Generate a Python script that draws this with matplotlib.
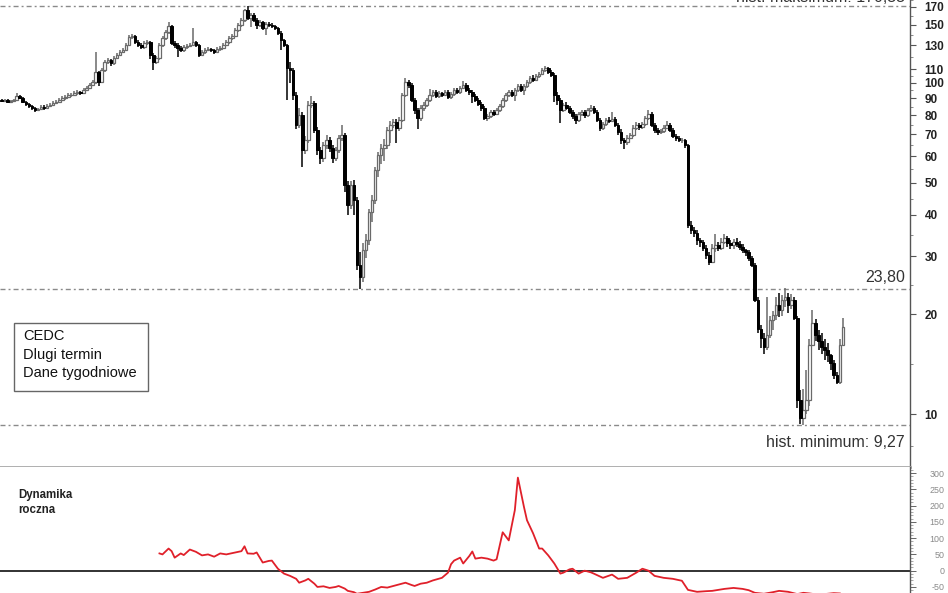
import matplotlib
matplotlib.use("Agg")
import matplotlib.pyplot as plt
import matplotlib.patches as mpatches
import matplotlib.transforms as mtransforms
import numpy as np

# ---------------- data (weekly candles) ----------------
opens = [
88.5, 88.2, 88.8, 87.6, 88.2, 88.8, 91.4, 90.1, 87.6, 86.4,
85.2, 84.0, 82.8, 83.4, 84.6, 84.0, 85.2, 85.8, 87.0, 87.6,
88.8, 90.1, 90.7, 92.0, 92.0, 93.3, 93.9, 93.3, 95.2, 96.6,
98.6, 100.7, 107.9, 100.7, 109.4, 115.7, 117.3, 114.9, 119.0, 121.5,
124.1, 125.8, 130.2, 137.6, 138.6, 132.9, 130.2, 128.4, 132.0, 132.9,
121.5, 115.7, 119.0, 130.2, 136.7, 142.5, 148.6, 132.0, 130.2, 127.5,
125.8, 128.4, 129.3, 130.2, 132.9, 130.2, 121.5, 124.1, 125.8, 126.7,
125.8, 124.1, 126.7, 127.5, 130.2, 132.9, 136.7, 138.6, 144.5, 149.6,
154.9, 166.1, 157.1, 160.4, 154.9, 149.6, 152.8, 146.6, 150.7, 149.6,
148.6, 146.6, 141.5, 134.8, 130.2, 111.0, 109.4, 92.0, 74.6, 80.0,
62.7, 67.2, 85.8, 87.0, 72.1, 62.7, 59.3, 64.9, 67.2, 63.6,
59.3, 62.7, 68.2, 69.6, 49.2, 42.8, 49.2, 44.3, 28.2, 25.9,
31.3, 33.5, 40.7, 44.3, 54.6, 60.6, 63.6, 64.9, 72.1, 74.6,
76.2, 73.1, 77.3, 92.0, 100.7, 98.6, 88.8, 82.8, 78.3, 84.0,
85.8, 88.8, 92.0, 93.9, 91.4, 93.3, 92.0, 93.9, 90.7, 92.6,
95.2, 93.9, 96.6, 98.6, 95.2, 93.9, 91.4, 88.8, 86.4, 84.0,
78.3, 79.4, 81.7, 80.5, 82.8, 85.2, 88.8, 92.0, 93.9, 92.0,
95.2, 97.9, 95.2, 97.9, 100.7, 103.5, 102.1, 104.9, 106.4, 109.4,
111.0, 107.9, 105.7, 92.0, 88.8, 82.8, 85.8, 84.0, 81.7, 79.4,
77.3, 80.5, 81.7, 80.0, 82.8, 84.0, 81.7, 77.3, 73.1, 75.1,
77.3, 76.7, 77.8, 74.6, 71.1, 67.2, 66.3, 68.2, 69.6, 73.1,
74.6, 73.6, 75.1, 78.3, 80.5, 74.6, 72.1, 71.1, 71.6, 73.1,
74.6, 72.1, 69.1, 68.2, 67.2, 67.2, 64.9, 37.2, 35.9, 35.2,
33.5, 33.0, 31.7, 30.2, 28.8, 31.7, 32.4, 31.7, 33.0, 34.0,
32.8, 32.4, 33.0, 32.6, 31.9, 31.3, 30.8, 29.6, 28.2, 22.1,
18.1, 17.0, 15.9, 17.3, 19.2, 19.9, 21.3, 20.6, 22.1, 22.6,
21.3, 22.1, 19.5, 11.0, 9.7, 10.3, 11.0, 16.2, 18.9, 17.3,
16.6, 15.9, 15.6, 15.1, 14.3, 13.1, 12.5, 16.2,
]
highs = [
89.4, 89.6, 89.5, 88.9, 89.7, 93.5, 92.0, 90.6, 88.3, 87.0,
86.0, 84.6, 84.2, 85.9, 85.5, 86.1, 87.0, 88.2, 88.9, 89.9,
91.0, 91.8, 93.4, 93.2, 94.6, 95.1, 94.8, 96.3, 97.8, 100.1,
102.2, 124.1, 109.0, 110.8, 117.2, 119.2, 118.5, 120.4, 123.0, 125.6,
127.7, 132.0, 139.6, 140.5, 139.8, 134.4, 131.6, 133.8, 134.6, 133.6,
123.0, 120.4, 131.8, 138.5, 144.5, 152.8, 149.9, 133.5, 131.7, 128.9,
129.8, 130.9, 131.6, 146.6, 134.2, 131.4, 125.6, 127.2, 128.5, 127.9,
126.8, 128.0, 129.1, 131.9, 134.6, 138.4, 140.7, 146.5, 151.8, 157.2,
167.6, 170.55, 163.0, 162.3, 156.8, 154.9, 154.2, 152.6, 153.0, 151.6,
150.0, 148.0, 143.0, 136.0, 131.5, 116.0, 111.2, 93.6, 84.0, 81.8,
69.0, 88.0, 91.0, 88.4, 73.6, 64.0, 66.3, 69.8, 68.5, 64.9,
64.0, 69.6, 74.6, 70.5, 50.5, 50.6, 51.0, 45.2, 30.8, 32.8,
35.0, 41.5, 46.0, 55.8, 62.0, 65.3, 67.5, 73.8, 76.5, 78.0,
77.8, 79.0, 93.5, 103.5, 102.0, 99.6, 90.0, 84.0, 85.8, 87.5,
90.0, 95.8, 95.0, 95.0, 94.6, 94.0, 95.2, 95.0, 93.8, 96.4,
96.5, 98.0, 101.4, 99.7, 96.4, 95.0, 92.6, 90.0, 87.6, 85.0,
80.8, 83.0, 82.6, 84.0, 86.5, 90.2, 93.5, 95.2, 95.3, 96.8,
99.5, 99.0, 99.2, 102.0, 105.0, 105.8, 106.2, 108.0, 111.0, 112.5,
112.0, 109.2, 106.8, 94.0, 90.0, 87.0, 87.5, 85.2, 83.0, 80.6,
81.8, 83.0, 82.8, 84.0, 85.5, 85.2, 82.8, 78.5, 76.2, 78.4,
78.8, 81.5, 79.0, 75.8, 72.4, 68.4, 69.4, 70.8, 74.4, 76.0,
75.5, 76.4, 79.6, 82.8, 81.5, 75.5, 73.2, 72.8, 74.6, 76.8,
75.6, 73.0, 70.2, 69.0, 68.4, 67.8, 65.5, 38.2, 36.6, 36.0,
34.0, 33.5, 32.4, 30.8, 32.6, 35.0, 33.0, 34.0, 35.0, 34.6,
33.5, 33.8, 34.0, 33.2, 32.6, 31.6, 31.2, 30.0, 28.6, 22.5,
18.6, 17.6, 22.6, 19.8, 20.5, 22.5, 23.2, 22.9, 24.0, 23.2,
23.0, 22.6, 19.8, 11.8, 11.9, 13.6, 16.8, 20.6, 19.4, 18.0,
17.6, 16.8, 16.4, 15.2, 14.6, 13.4, 16.8, 19.5,
]
lows = [
87.4, 87.6, 86.8, 87.0, 87.8, 88.3, 89.2, 86.9, 85.4, 84.0,
83.1, 81.6, 82.0, 82.7, 83.0, 83.2, 84.6, 84.9, 86.2, 86.9,
87.9, 89.0, 89.9, 90.8, 91.0, 92.2, 92.1, 92.4, 94.3, 95.6,
97.6, 99.2, 98.0, 99.6, 108.2, 113.9, 112.8, 113.5, 117.8, 120.2,
122.8, 124.5, 128.9, 135.4, 131.0, 128.6, 126.4, 127.0, 130.3, 118.0,
109.6, 113.9, 117.6, 128.7, 135.0, 141.0, 130.5, 127.3, 120.0, 124.0,
124.3, 126.9, 128.0, 128.9, 128.4, 119.8, 120.4, 122.6, 124.7, 124.0,
122.6, 123.0, 125.2, 126.4, 129.0, 131.4, 135.0, 137.2, 142.8, 147.8,
153.2, 155.0, 148.0, 152.8, 145.0, 147.4, 144.8, 139.6, 147.2, 146.0,
144.0, 139.2, 126.0, 128.0, 88.8, 100.0, 89.0, 72.8, 73.0, 55.6,
60.8, 66.0, 84.0, 70.5, 60.4, 57.0, 57.6, 63.0, 61.8, 57.2,
58.0, 61.6, 67.0, 47.0, 40.0, 41.5, 40.0, 27.3, 23.8, 25.0,
29.5, 32.4, 38.0, 43.0, 52.0, 57.0, 58.0, 63.2, 66.0, 73.0,
66.0, 71.8, 76.0, 90.5, 96.5, 87.5, 80.5, 72.5, 77.0, 82.5,
84.6, 87.5, 90.8, 90.2, 90.0, 90.6, 91.0, 89.2, 89.6, 91.5,
92.5, 92.8, 95.8, 94.0, 92.0, 87.0, 87.5, 85.2, 82.0, 77.2,
77.0, 78.5, 79.6, 79.8, 81.6, 84.0, 87.6, 90.5, 90.8, 88.0,
94.0, 94.0, 92.0, 96.8, 99.5, 100.6, 101.0, 103.5, 105.6, 108.0,
106.4, 104.2, 87.5, 86.0, 75.6, 81.5, 82.6, 80.3, 77.8, 75.0,
76.2, 79.3, 78.6, 79.0, 81.6, 80.4, 76.0, 71.8, 72.0, 74.0,
75.6, 76.0, 73.5, 69.8, 65.4, 63.0, 64.8, 67.5, 68.8, 72.0,
72.2, 72.5, 74.2, 77.5, 73.4, 70.8, 69.8, 70.2, 70.6, 72.4,
71.0, 68.2, 67.0, 66.2, 66.0, 63.8, 36.5, 35.0, 34.2, 32.3,
32.0, 31.0, 29.4, 28.2, 28.5, 30.8, 31.0, 31.2, 32.6, 32.0,
31.6, 31.6, 32.0, 31.2, 30.6, 30.0, 29.0, 27.8, 21.8, 17.6,
15.8, 15.2, 15.6, 17.0, 18.0, 19.2, 19.6, 19.8, 21.0, 20.2,
20.8, 19.2, 10.4, 9.3, 9.27, 10.0, 10.6, 16.0, 16.6, 15.6,
15.2, 14.6, 14.4, 13.6, 12.8, 12.3, 12.3, 16.0,
]
closes = [
88.2, 88.8, 87.6, 88.2, 88.8, 91.4, 90.1, 87.6, 86.4, 85.2,
84.0, 82.8, 83.4, 84.6, 84.0, 85.2, 85.8, 87.0, 87.6, 88.8,
90.1, 90.7, 92.0, 92.0, 93.3, 93.9, 93.3, 95.2, 96.6, 98.6,
100.7, 107.9, 100.7, 109.4, 115.7, 117.3, 114.9, 119.0, 121.5, 124.1,
125.8, 130.2, 137.6, 138.6, 132.9, 130.2, 128.4, 132.0, 132.9, 121.5,
115.7, 119.0, 130.2, 136.7, 142.5, 148.6, 132.0, 130.2, 127.5, 125.8,
128.4, 129.3, 130.2, 132.9, 130.2, 121.5, 124.1, 125.8, 126.7, 125.8,
124.1, 126.7, 127.5, 130.2, 132.9, 136.7, 138.6, 144.5, 149.6, 154.9,
166.1, 157.1, 160.4, 154.9, 149.6, 152.8, 146.6, 150.7, 149.6, 148.6,
146.6, 141.5, 134.8, 130.2, 111.0, 109.4, 92.0, 74.6, 80.0, 62.7,
67.2, 85.8, 87.0, 72.1, 62.7, 59.3, 64.9, 67.2, 63.6, 59.3,
62.7, 68.2, 69.6, 49.2, 42.8, 49.2, 44.3, 28.2, 25.9, 31.3,
33.5, 40.7, 44.3, 54.6, 60.6, 63.6, 64.9, 72.1, 74.6, 76.2,
73.1, 77.3, 92.0, 100.7, 98.6, 88.8, 82.8, 78.3, 84.0, 85.8,
88.8, 92.0, 93.9, 91.4, 93.3, 92.0, 93.9, 90.7, 92.6, 95.2,
93.9, 96.6, 98.6, 95.2, 93.9, 91.4, 88.8, 86.4, 84.0, 78.3,
79.4, 81.7, 80.5, 82.8, 85.2, 88.8, 92.0, 93.9, 92.0, 95.2,
97.9, 95.2, 97.9, 100.7, 103.5, 102.1, 104.9, 106.4, 109.4, 111.0,
107.9, 105.7, 92.0, 88.8, 82.8, 85.8, 84.0, 81.7, 79.4, 77.3,
80.5, 81.7, 80.0, 82.8, 84.0, 81.7, 77.3, 73.1, 75.1, 77.3,
76.7, 77.8, 74.6, 71.1, 67.2, 66.3, 68.2, 69.6, 73.1, 74.6,
73.6, 75.1, 78.3, 80.5, 74.6, 72.1, 71.1, 71.6, 73.1, 74.6,
72.1, 69.1, 68.2, 67.2, 67.2, 64.9, 37.2, 35.9, 35.2, 33.5,
33.0, 31.7, 30.2, 28.8, 31.7, 32.4, 31.7, 33.0, 34.0, 32.8,
32.4, 33.0, 32.6, 31.9, 31.3, 30.8, 29.6, 28.2, 22.1, 18.1,
17.0, 15.9, 17.3, 19.2, 19.9, 21.3, 20.6, 22.1, 22.6, 21.3,
22.1, 19.5, 11.0, 9.7, 10.3, 11.0, 16.2, 18.9, 17.3, 16.6,
15.9, 15.6, 15.1, 14.3, 13.1, 12.5, 16.2, 18.3,
]

# yearly change (%) - week index and value
dyn_week = [52, 53, 55, 56, 57, 59, 60, 62, 64, 66, 68, 70, 72, 74, 77, 79, 80, 81, 83, 84,
            86, 88, 89, 91, 93, 95, 97, 98, 100, 101, 103, 104, 106, 108, 110, 111, 113, 114, 116, 117,
            119, 121, 123, 125, 127, 129, 131, 133, 135, 136, 138, 140, 142, 145, 147, 148, 149, 151, 152, 154,
            155, 156, 158, 160, 162, 163, 165, 167, 169, 170, 172, 173, 175, 177, 178, 180, 182, 184, 185, 187,
            188, 190, 192, 194, 195, 198, 201, 203, 206, 209, 211, 213, 215, 218, 221, 224, 226, 229, 232, 234,
            238, 241, 244, 246, 248, 251, 254, 256, 259, 262, 264, 266, 269, 271, 274, 276]
dyn_val = [53, 50, 68, 60, 40, 53, 48, 65, 58, 47, 50, 43, 53, 50, 56, 60, 75, 53, 52, 56,
           25, 30, 31, 6, -9, -16, -25, -37, -30, -25, -40, -50, -48, -53, -50, -47, -55, -62, -66, -71,
           -68, -65, -58, -50, -52, -47, -42, -37, -44, -47, -40, -37, -30, -22, -6, 20, 31, 40, 22, 45,
           59, 37, 40, 37, 31, 35, 118, 93, 186, 286, 196, 155, 115, 68, 68, 47, 22, -9, -6, 4,
           6, -9, 0, -5, -9, -22, -12, -25, -22, -6, 6, 0, -16, -22, -25, -31, -59, -65, -63, -62,
           -56, -53, -56, -60, -68, -71, -66, -62, -65, -72, -68, -70, -74, -72, -69, -70]

price_ticks = [10, 20, 30, 40, 50, 60, 70, 80, 90, 100, 110, 130, 150, 170]
dyn_ticks = [-50, 0, 50, 100, 150, 200, 250, 300]
hist_max = 170.55
hist_min = 9.27
level = 23.80
info_lines = ["CEDC", "Dlugi termin", "Dane tygodniowe"]

# ---------------- figure ----------------
W, H = 948, 593
fig = plt.figure(figsize=(W / 100, H / 100), dpi=100)
fig.patch.set_facecolor("white")
FONT = "Liberation Sans"

ax = fig.add_axes([0, 1 - 467 / H, 910 / W, 467 / H])
ax2 = fig.add_axes([0, 0, 910 / W, 126 / H])

x = np.arange(len(closes))
o = np.array(opens); h = np.array(highs); l = np.array(lows); c = np.array(closes)
up = c >= o
dn = ~up

ax.set_yscale("log")
ax.set_ylim(6.92, 178.0)
ax.set_xlim(-0.5, 299.1)

upcol = "#6a6a6a"
ax.vlines(x[up], l[up], h[up], color=upcol, lw=1.1, zorder=2)
ax.vlines(x[dn], l[dn], h[dn], color="black", lw=1.1, zorder=2)
bw = 0.85
ax.bar(x[up], c[up] - o[up], bottom=o[up], width=bw, facecolor="white",
       edgecolor=upcol, linewidth=0.9, zorder=3)
ax.bar(x[dn], o[dn] - c[dn], bottom=c[dn], width=bw, facecolor="black",
       edgecolor="black", linewidth=0.7, zorder=3)

dash = (0, (3.6, 2.2, 1.4, 2.2))
for v in (hist_max, level, hist_min):
    ax.axhline(v, color="#8a8a8a", lw=1.0, linestyle=dash, zorder=1)

trans = mtransforms.blended_transform_factory(ax.transAxes, ax.transData)
ax.text(905 / 910, 10 ** (1 + (414 - 278) / 331), "23,80", transform=trans,
        ha="right", va="center", fontsize=11.5, color="#333333", family=FONT)
ax.text(905 / 910, 10 ** (1 - 28 / 331), "hist. minimum: 9,27", transform=trans,
        ha="right", va="center", fontsize=11.5, color="#333333", family=FONT)
ax.text(905 / 910, 10 ** (1 + (414 - 2) / 331), "hist. maksimum: 170,55", transform=trans,
        ha="right", va="baseline", fontsize=11.5, color="#333333", family=FONT)

# spines / ticks main
for s in ("left", "top"):
    ax.spines[s].set_visible(False)
ax.spines["bottom"].set_color("#a8a8a8")
ax.spines["bottom"].set_linewidth(2.0)
ax.spines["right"].set_color("#555555")
ax.spines["right"].set_linewidth(1.0)
ax.set_xticks([])
ax.yaxis.set_ticks_position("right")
ax.set_yticks(price_ticks)
ax.set_yticklabels([str(t) for t in price_ticks])
minor = [np.sqrt(a * b) for a, b in zip(price_ticks[:-1], price_ticks[1:])] + [8.0, 178.0]
ax.set_yticks(minor, minor=True)
ax.yaxis.set_minor_formatter(plt.NullFormatter())
ax.tick_params(axis="y", which="major", direction="out", length=4, width=0.8,
               color="#555555", pad=6.5, labelsize=8.5, labelcolor="#222222")
ax.tick_params(axis="y", which="minor", direction="out", length=2.5, width=0.6, color="#777777")
for lab in ax.get_yticklabels():
    lab.set_family(FONT)
    lab.set_fontweight("bold")

# info box
fig.patches.append(mpatches.Rectangle((14 / W, 1 - 391 / H), 134 / W, 68 / H,
                                      transform=fig.transFigure, facecolor="white",
                                      edgecolor="#666666", lw=1.0, zorder=5))
for k, t in enumerate(info_lines):
    fig.text(23 / W, 1 - (336 + 18.5 * k) / H, t, ha="left", va="center",
             fontsize=10.5, color="#111111", family=FONT, zorder=6)

# ---------------- lower panel ----------------
ax2.set_xlim(-0.5, 299.1)
ax2.set_ylim(-68.6, 318.6)
ax2.plot(dyn_week, dyn_val, color="#e0202a", lw=1.3, zorder=3)
ax2.axhline(0, color="#222222", lw=1.3, zorder=2)
for s in ("left", "top", "bottom"):
    ax2.spines[s].set_visible(False)
ax2.spines["right"].set_color("#555555")
ax2.spines["right"].set_linewidth(1.0)
ax2.set_xticks([])
ax2.yaxis.set_ticks_position("right")
ax2.set_yticks(dyn_ticks)
ax2.set_yticklabels([str(t) for t in dyn_ticks])
ax2.set_yticks(np.arange(-60, 320, 10), minor=True)
ax2.tick_params(axis="y", which="major", direction="out", length=4, width=0.7,
                color="#666666", pad=21, labelsize=6.4, labelcolor="#8a8a8a")
ax2.tick_params(axis="y", which="minor", direction="out", length=2, width=0.5, color="#888888")
for lab in ax2.get_yticklabels():
    lab.set_horizontalalignment("right")
    lab.set_family(FONT)

fig.text(18 / W, 1 - 495 / H, "Dynamika", ha="left", va="center", fontsize=8.3,
         fontweight="bold", color="#222222", family=FONT)
fig.text(18 / W, 1 - 510 / H, "roczna", ha="left", va="center", fontsize=8.3,
         fontweight="bold", color="#222222", family=FONT)

fig.savefig("out.png", dpi=100, facecolor="white")
